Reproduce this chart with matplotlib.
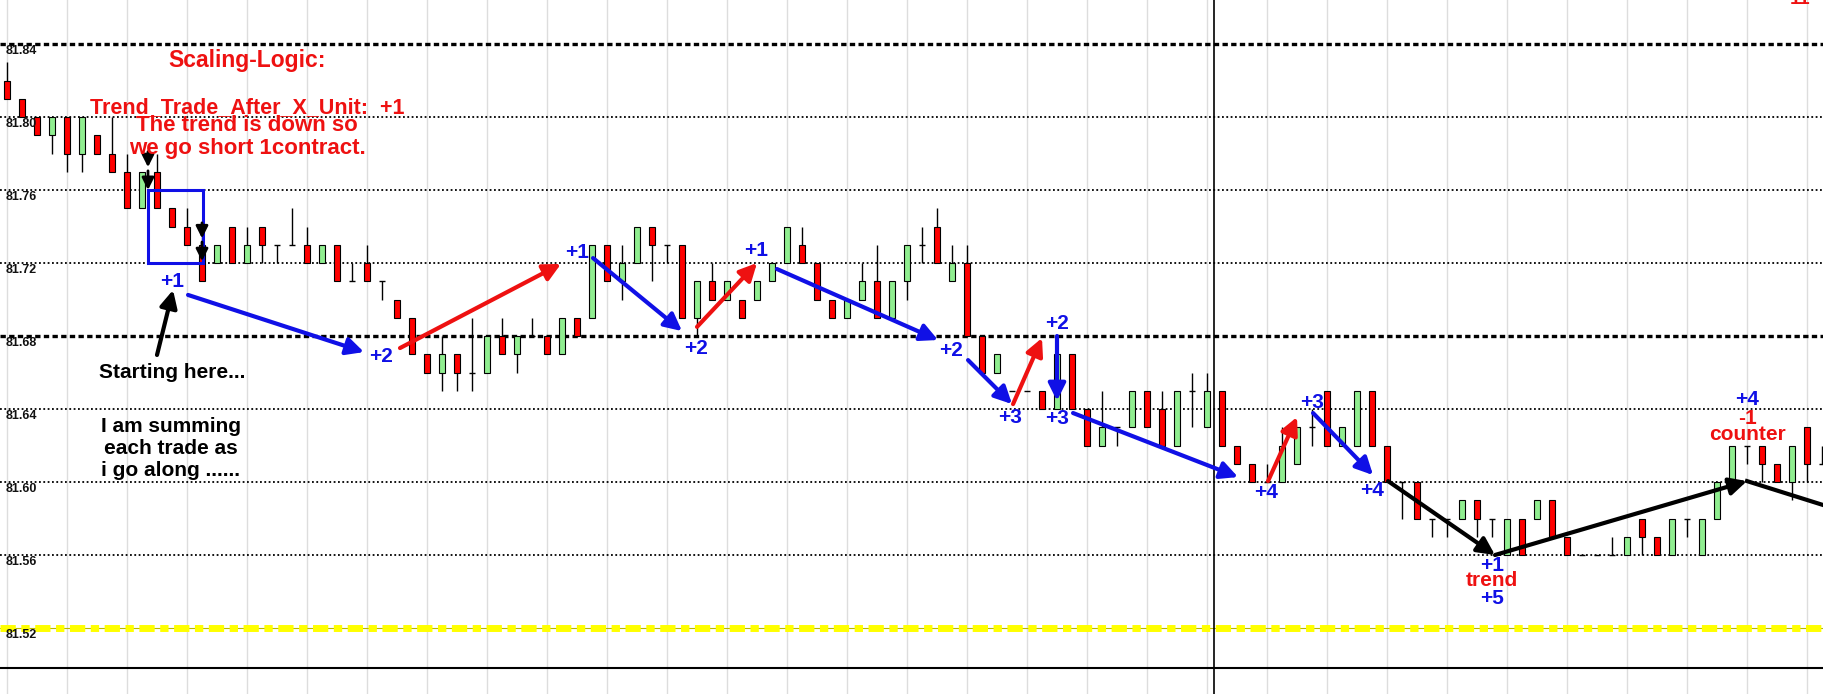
import matplotlib
matplotlib.use("Agg")
import matplotlib.pyplot as plt
import numpy as np

plt.rcParams["font.family"] = ["Liberation Sans", "DejaVu Sans"]

# OHLC per bar (bar index = position along the x axis)
opens = [81.82, 81.81, 81.80, 81.79, 81.80, 81.78, 81.79, 81.78, 81.77, 81.75,
         81.77, 81.75, 81.74, 81.73, 81.72, 81.74, 81.72, 81.74, 81.73, 81.73,
         81.73, 81.72, 81.73, 81.71, 81.72, 81.71, 81.70, 81.69, 81.67, 81.66,
         81.67, 81.66, 81.66, 81.68, 81.67, 81.68, 81.68, 81.67, 81.69, 81.69,
         81.73, 81.71, 81.72, 81.74, 81.73, 81.73, 81.69, 81.71, 81.70, 81.70,
         81.70, 81.71, 81.72, 81.73, 81.72, 81.70, 81.69, 81.70, 81.71, 81.69,
         81.71, 81.73, 81.74, 81.71, 81.72, 81.68, 81.66, 81.65, 81.65, 81.65,
         81.64, 81.67, 81.64, 81.62, 81.63, 81.63, 81.65, 81.64, 81.62, 81.65,
         81.63, 81.65, 81.62, 81.61, 81.60, 81.60, 81.61, 81.63, 81.65, 81.62,
         81.62, 81.65, 81.62, 81.60, 81.60, 81.58, 81.58, 81.58, 81.59, 81.58,
         81.56, 81.58, 81.58, 81.59, 81.57, 81.56, 81.56, 81.56, 81.56, 81.58,
         81.57, 81.56, 81.58, 81.56, 81.58, 81.60, 81.62, 81.62, 81.61, 81.60,
         81.63, 81.61]
highs = [81.83, 81.81, 81.80, 81.80, 81.80, 81.80, 81.79, 81.80, 81.78, 81.77,
         81.78, 81.75, 81.75, 81.74, 81.73, 81.74, 81.74, 81.74, 81.73, 81.75,
         81.74, 81.73, 81.73, 81.72, 81.73, 81.71, 81.70, 81.69, 81.67, 81.68,
         81.67, 81.69, 81.68, 81.69, 81.68, 81.69, 81.68, 81.69, 81.69, 81.73,
         81.73, 81.73, 81.74, 81.74, 81.73, 81.73, 81.71, 81.72, 81.71, 81.70,
         81.71, 81.72, 81.74, 81.74, 81.72, 81.70, 81.70, 81.72, 81.73, 81.71,
         81.73, 81.74, 81.75, 81.73, 81.73, 81.68, 81.67, 81.65, 81.65, 81.65,
         81.67, 81.67, 81.64, 81.65, 81.63, 81.65, 81.65, 81.65, 81.65, 81.66,
         81.66, 81.65, 81.62, 81.61, 81.61, 81.63, 81.63, 81.64, 81.65, 81.63,
         81.65, 81.65, 81.62, 81.60, 81.60, 81.58, 81.58, 81.59, 81.59, 81.58,
         81.58, 81.58, 81.59, 81.59, 81.57, 81.56, 81.56, 81.57, 81.57, 81.58,
         81.57, 81.58, 81.58, 81.58, 81.60, 81.62, 81.62, 81.62, 81.61, 81.62,
         81.63, 81.62]
lows = [81.81, 81.80, 81.79, 81.78, 81.77, 81.77, 81.78, 81.77, 81.75, 81.75,
        81.75, 81.74, 81.73, 81.71, 81.72, 81.72, 81.72, 81.72, 81.72, 81.73,
        81.72, 81.72, 81.71, 81.71, 81.71, 81.70, 81.69, 81.67, 81.66, 81.65,
        81.65, 81.65, 81.66, 81.67, 81.66, 81.68, 81.67, 81.67, 81.68, 81.69,
        81.71, 81.70, 81.72, 81.71, 81.72, 81.69, 81.68, 81.70, 81.70, 81.69,
        81.70, 81.71, 81.72, 81.72, 81.70, 81.69, 81.69, 81.70, 81.69, 81.69,
        81.70, 81.72, 81.72, 81.71, 81.68, 81.66, 81.66, 81.65, 81.65, 81.64,
        81.64, 81.64, 81.62, 81.62, 81.62, 81.63, 81.63, 81.62, 81.62, 81.63,
        81.63, 81.62, 81.61, 81.60, 81.60, 81.60, 81.61, 81.62, 81.62, 81.62,
        81.62, 81.62, 81.60, 81.58, 81.58, 81.57, 81.57, 81.58, 81.57, 81.57,
        81.56, 81.56, 81.58, 81.57, 81.56, 81.56, 81.56, 81.56, 81.56, 81.56,
        81.56, 81.56, 81.57, 81.56, 81.58, 81.60, 81.61, 81.60, 81.60, 81.59,
        81.60, 81.61]
closes = [81.81, 81.80, 81.79, 81.80, 81.78, 81.80, 81.78, 81.77, 81.75, 81.77,
          81.75, 81.74, 81.73, 81.71, 81.73, 81.72, 81.73, 81.73, 81.73, 81.73,
          81.72, 81.73, 81.71, 81.71, 81.71, 81.71, 81.69, 81.67, 81.66, 81.67,
          81.66, 81.66, 81.68, 81.67, 81.68, 81.68, 81.67, 81.69, 81.68, 81.73,
          81.71, 81.72, 81.74, 81.73, 81.73, 81.69, 81.71, 81.70, 81.71, 81.69,
          81.71, 81.72, 81.74, 81.72, 81.70, 81.69, 81.70, 81.71, 81.69, 81.71,
          81.73, 81.73, 81.72, 81.72, 81.68, 81.66, 81.67, 81.65, 81.65, 81.64,
          81.67, 81.64, 81.62, 81.63, 81.63, 81.65, 81.63, 81.62, 81.65, 81.65,
          81.65, 81.62, 81.61, 81.60, 81.60, 81.62, 81.63, 81.63, 81.62, 81.63,
          81.65, 81.62, 81.60, 81.60, 81.58, 81.58, 81.58, 81.59, 81.58, 81.58,
          81.58, 81.56, 81.59, 81.57, 81.56, 81.56, 81.56, 81.56, 81.57, 81.57,
          81.56, 81.58, 81.58, 81.58, 81.60, 81.62, 81.62, 81.61, 81.60, 81.62,
          81.61, 81.61]

price_levels = [81.84, 81.80, 81.76, 81.72, 81.68, 81.64, 81.60, 81.56]
bold_levels = [81.84, 81.68]
yellow_level = 81.52
axis_label_levels = [81.84, 81.80, 81.76, 81.72, 81.68, 81.64, 81.60, 81.56, 81.52]

# arrows: (x_from, y_from, x_to, y_to, colour)
arrows = [
    (12.07, 81.7025, 23.8, 81.6712, "blue"),
    (26.2, 81.6734, 36.93, 81.7195, "red"),
    (39.07, 81.7227, 45.0, 81.6827, "blue"),
    (46.0, 81.685, 50.0, 81.720, "red"),
    (51.33, 81.7167, 62.07, 81.6778, "blue"),
    (64.07, 81.6668, 67.0, 81.6427, "blue"),
    (67.07, 81.6427, 69.0, 81.6789, "red"),
    (70.0, 81.6800, 70.0, 81.6445, "blue"),
    (71.07, 81.6378, 82.07, 81.6027, "blue"),
    (84.07, 81.6005, 86.0, 81.6356, "red"),
    (87.07, 81.6378, 91.07, 81.6038, "blue"),
    (92.07, 81.6005, 99.2, 81.5600, "black"),
    (99.2, 81.5600, 116.0, 81.6005, "black"),
    (10.0, 81.6696, 11.07, 81.7052, "black"),
]
# small double-headed entry markers
entry_marks = [(9.4, 81.781, 81.760), (13.0, 81.742, 81.721)]

labels = [
    (11.0, 81.7096, "+1", "blue"),
    (24.93, 81.669, "+2", "blue"),
    (38.0, 81.726, "+1", "blue"),
    (45.93, 81.6729, "+2", "blue"),
    (49.93, 81.727, "+1", "blue"),
    (62.93, 81.6723, "+2", "blue"),
    (66.87, 81.6356, "+3", "blue"),
    (70.0, 81.6871, "+2", "blue"),
    (70.0, 81.635, "+3", "blue"),
    (83.93, 81.5945, "+4", "blue"),
    (87.0, 81.6433, "+3", "blue"),
    (91.0, 81.5956, "+4", "blue"),
    (99.0, 81.5545, "+1", "blue"),
    (99.0, 81.5463, "trend", "red"),
    (99.0, 81.5360, "+5", "blue"),
    (116.0, 81.645, "+4", "blue"),
    (116.0, 81.635, "-1", "red"),
    (116.0, 81.6263, "counter", "red"),
]

COLORS = {"blue": "#1010e6", "red": "#ee1111", "black": "black"}
UP = "#90ee90"
DOWN = "#ff0000"

fig = plt.figure(figsize=(18.23, 6.94), dpi=100)
ax = fig.add_axes([0, 0, 1, 1])
ax.set_xlim(-7 / 15, 1816 / 15)
ax.set_ylim(81.48384, 81.86411)
for s in ax.spines.values():
    s.set_visible(False)
ax.tick_params(left=False, bottom=False, labelleft=False, labelbottom=False)

# vertical light grid every 4 bars
for gx in range(0, 122, 4):
    ax.axvline(gx, color="#dddddd", lw=1, zorder=0)

for lv in price_levels:
    if lv in bold_levels:
        ax.axhline(lv, color="black", lw=2.4, ls=(0, (1.6, 1.0)), zorder=1)
    else:
        ax.axhline(lv, color="black", lw=1.3, ls=(0, (1.0, 1.4)), zorder=1)
ax.axhline(yellow_level, color="#b8b800", lw=0.8, zorder=1)
ax.axhline(yellow_level, color="#ffff00", lw=5, ls=(0, (2.2, 0.8, 1.2, 0.8)), zorder=1)
ax.axhline(81.49808, color="black", lw=1.5, zorder=1)
ax.axvline(80.47, color="black", lw=1.2, zorder=1)

for lv in axis_label_levels:
    ax.text(6 / 1823, lv - 0.0008, f"{lv:.2f}", transform=ax.get_yaxis_transform(),
            ha="left", va="top", fontsize=9, fontweight="bold", color="#111111", zorder=6)

# candles
w = 0.44
x = np.arange(len(opens))
for i in x:
    o, h, l, c = opens[i], highs[i], lows[i], closes[i]
    ax.vlines(i, l, h, color="black", lw=1, zorder=3)
    if abs(c - o) < 1e-9:
        ax.hlines(o, i - w / 2, i + w / 2, color="black", lw=1, zorder=3)
    else:
        ax.bar(i, abs(c - o), bottom=min(o, c), width=w,
               color=UP if c > o else DOWN, edgecolor="black", lw=0.8, zorder=4)

# entry box
ax.add_patch(plt.Rectangle((9.4, 81.72), 3.67, 0.04, fill=False,
                           edgecolor="#1010e6", lw=2.2, zorder=5))
for ex, y0, y1 in entry_marks:
    ym = (y0 + y1) / 2
    for a, b in ((y0, ym + 0.002), (ym, y1)):
        ax.annotate("", xy=(ex, b), xytext=(ex, a),
                    arrowprops=dict(arrowstyle="-|>", color="black", lw=2,
                                    mutation_scale=18, shrinkA=0, shrinkB=0), zorder=6)

for x0, y0, x1, y1, col in arrows:
    ax.annotate("", xy=(x1, y1), xytext=(x0, y0),
                arrowprops=dict(arrowstyle="-|>", color=COLORS[col], lw=3,
                                mutation_scale=26, shrinkA=0, shrinkB=0), zorder=6)
# continuation of the last black leg
ax.plot([116.0, 121.07], [81.6005, 81.5874], color="black", lw=3, zorder=6)

for lx, ly, txt, col in labels:
    ax.text(lx, ly, txt, color=COLORS[col], fontsize=15, fontweight="bold",
            ha="center", va="center", zorder=7)

red = COLORS["red"]
ax.text(16.0, 81.8312, "Scaling-Logic:", color=red, fontsize=16.5, fontweight="bold",
        ha="center", va="center", zorder=7)
ax.text(16.0, 81.8050, "Trend_Trade_After_X_Unit:  +1", color=red, fontsize=15.5,
        fontweight="bold", ha="center", va="center", zorder=7)
ax.text(16.0, 81.7956, "The trend is down so", color=red, fontsize=16,
        fontweight="bold", ha="center", va="center", zorder=7)
ax.text(16.0, 81.7830, "we go short 1contract.", color=red, fontsize=16,
        fontweight="bold", ha="center", va="center", zorder=7)
ax.text(11.0, 81.660, "Starting here...", color="black", fontsize=15,
        fontweight="bold", ha="center", va="center", zorder=7)
ax.text(10.93, 81.6186, "I am summing\neach trade as\ni go along ......", color="black",
        fontsize=15, fontweight="bold", ha="center", va="center", linespacing=1.2, zorder=7)

fig.text(1790 / 1823, 1 - 4 / 694, "11", color=red, fontsize=14, fontweight="bold",
         ha="left", va="baseline")

fig.savefig("out.png", dpi=100)
